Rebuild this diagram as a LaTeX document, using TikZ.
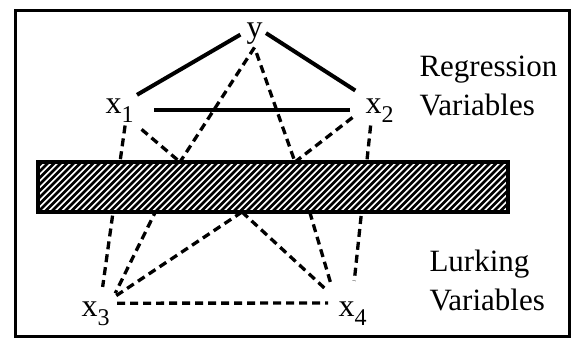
\documentclass[tikz,border=0pt]{standalone}
\usepackage{fontspec}
\setmainfont{Liberation Serif}
\usetikzlibrary{positioning}
\newcommand\lowsub[1]{\raisebox{-9pt}{\fontsize{24}{24}\selectfont #1}}
\tikzset{
  every picture/.style={line width=3pt},
  var/.style={font=\fontsize{32}{40}\selectfont, inner sep=2pt, anchor=base west},
  side/.style={font=\fontsize{31}{39}\selectfont, align=left, anchor=base west, inner sep=0pt},
  link/.style={line width=4pt},
  lurk/.style={line width=3.3pt, dash pattern=on 8pt off 5pt},
  hatch/.style={line width=2.8pt},
}

\begin{document}
\begin{tikzpicture}[x=1pt, y=-1pt]
  \useasboundingbox (0,0) rectangle (576,338);
  \draw (15,10) rectangle (569,336);
  % variables
  \node[var] (y) at (243,37) {y};
  \node[var] (x1) at (102,113) {x\lowsub{1}};
  \node[var] (x2) at (362,113) {x\lowsub{2}};
  \node[var] (x3) at (78,316) {x\lowsub{3}};
  \node[var] (x4) at (335,316) {x\lowsub{4}};
  \node[side] (reg) at (418,115) {Regression\\Variables};
  \node[side] (lurk) at (428,310) {Lurking\\Variables};
  % where the dashed links meet the screen
  \coordinate (P) at (180,162);
  \coordinate (Q) at (295,162);
  \coordinate (R) at (242,212);
  % regression links
  \draw[link, shorten <=3pt] (y.west) -- (x1.north east);
  \draw[link, shorten >=8pt] (y.east) -- (x2.north west);
  \draw[link, shorten <=17pt, shorten >=12pt] (x1.east) -- (x2.west);
  % lurking links
  \draw[lurk, shorten >=11pt] (x1.290) -- (x3.70);
  \draw[lurk, shorten <=6pt] (x1.south east) -- (P);
  \draw[lurk] (y.south) -- (P);
  \draw[lurk, shorten >=5pt] (P) -- (x3.north east);
  \draw[lurk, shorten <=6pt] (y.south) -- (Q);
  \draw[lurk, shorten <=12pt] (x2.west) -- (Q);
  \draw[lurk, shorten >=12pt] (Q) -- (x4.north west);
  \draw[lurk, shorten >=17pt] (x2.240) -- (x4.north);
  \draw[lurk] (R) -- (x3.north east);
  \draw[lurk, shorten >=10pt] (R) -- (x4.north west);
  \draw[lurk, shorten <=4pt, shorten >=7pt] (x3.30) -- (x4.150);
  % the screen
  \fill[white] (38,162) rectangle (508,212);
  \begin{scope}
    \clip (38,162) rectangle (508,212);
    \foreach \k in {-8,...,73}
      \draw[hatch] ({38+6.5*\k},212) -- ++(50,-50);
  \end{scope}
  \draw[line width=3.4pt] (38,162) rectangle (508,212);
\end{tikzpicture}
\end{document}
